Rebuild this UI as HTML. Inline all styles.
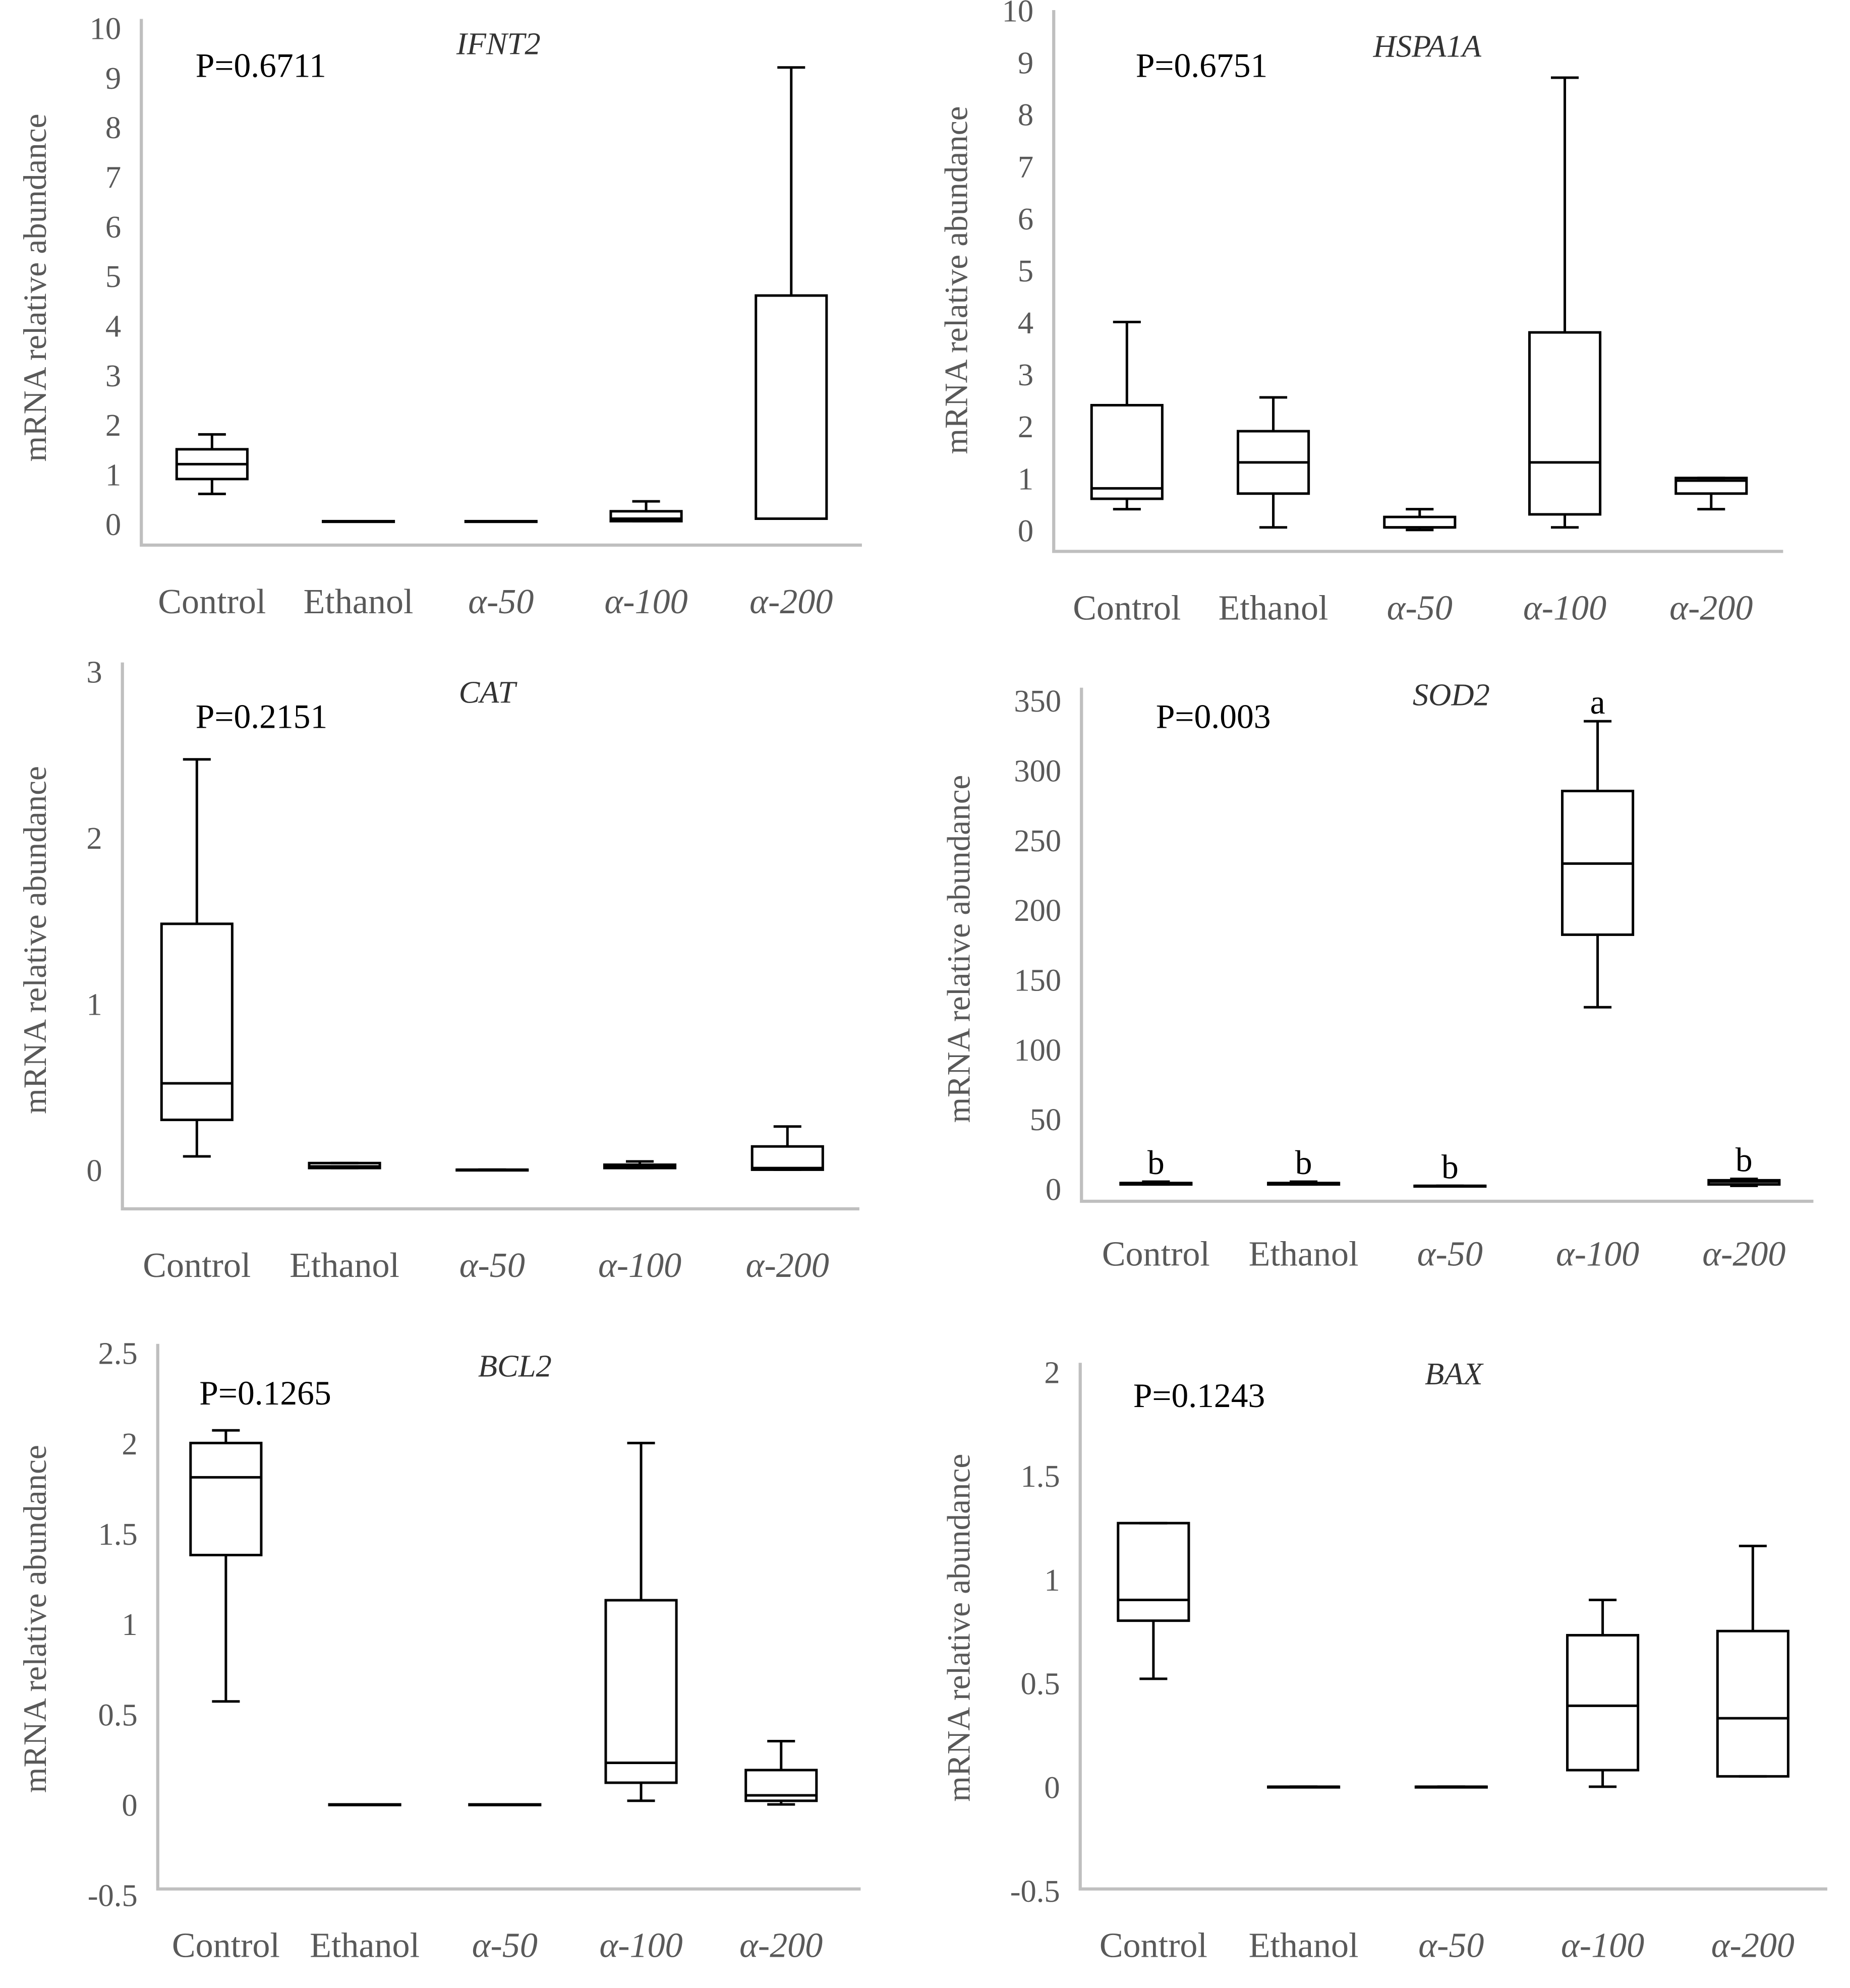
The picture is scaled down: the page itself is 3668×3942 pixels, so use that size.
<!DOCTYPE html>
<html><head><meta charset="utf-8"><style>
html,body{margin:0;padding:0;background:#fff}
svg{display:block}
text{font-family:"Liberation Serif",serif}
</style></head><body>
<svg id="chart" width="3668" height="3942" viewBox="0 0 1466 1575.5" preserveAspectRatio="none" xmlns="http://www.w3.org/2000/svg">
<rect width="1466" height="1575.5" fill="#fff"/>
</svg>
<script>
const categories = ["Control","Ethanol","α-50","α-100","α-200"];
// each box: [whiskerLow, boxLow, median, boxHigh, whiskerHigh]
const ifnt2Values = [[0.6,0.9,1.2,1.5,1.8],[0.05,0.05,0.05,0.05,0.05],[0.05,0.05,0.05,0.05,0.05],[0.05,0.05,0.1,0.25,0.45],[0.1,0.1,0.1,4.6,9.2]];
const hspa1aValues = [[0.4,0.6,0.8,2.4,4.0],[0.05,0.7,1.3,1.9,2.55],[0,0.05,0.05,0.25,0.4],[0.05,0.3,1.3,3.8,8.7],[0.4,0.7,0.95,1.0,1.0]];
const catValues = [[0.08,0.3,0.52,1.48,2.47],[0.01,0.01,0.02,0.04,0.04],[0,0,0,0,0],[0.01,0.01,0.02,0.03,0.05],[0,0,0.01,0.14,0.26]];
const sod2Values = [[3,3,4,4,5],[3,3,4,4,5],[2,2,2,2,2],[130,182,233,285,335],[2,3,5,6,7]];
const bcl2Values = [[0.57,1.38,1.81,2.0,2.07],[0,0,0,0,0],[0,0,0,0,0],[0.02,0.12,0.23,1.13,2.0],[0,0.02,0.05,0.19,0.35]];
const baxValues = [[0.52,0.8,0.9,1.27,1.27],[0,0,0,0,0],[0,0,0,0,0],[0,0.08,0.39,0.73,0.9],[0.05,0.05,0.33,0.75,1.16]];
const ifnt2Ticks = [0,1,2,3,4,5,6,7,8,9,10];
const hspa1aTicks = [0,1,2,3,4,5,6,7,8,9,10];
const catTicks = [0,1,2,3];
const sod2Ticks = [0,50,100,150,200,250,300,350];
const bcl2Ticks = [-0.5,0,0.5,1,1.5,2,2.5];
const baxTicks = [-0.5,0,0.5,1,1.5,2];
const sod2Letters = ["b","b","b","a","b"];

const svg = document.getElementById('chart');
const NS = "http://www.w3.org/2000/svg";
function mk(tag, attrs, parent, txt){
  const e = document.createElementNS(NS, tag);
  for (const k in attrs) e.setAttribute(k, attrs[k]);
  if (txt !== undefined) e.textContent = txt;
  (parent||svg).appendChild(e);
  return e;
}
const panels = [
 {id:"ifnt2", title:"IFNT2", p:"P=0.6711", values:ifnt2Values, ticks:ifnt2Ticks, ax:112, top:15, bottom:432, right:683, v0:0, y0:415, v1:10, y1:22, cx:[168,284,397,512,627], labY:486, titleX:395, titleY:43, pX:155, pY:61, ytX:28, ytY:228},
 {id:"hspa1a", title:"HSPA1A", p:"P=0.6751", values:hspa1aValues, ticks:hspa1aTicks, ax:835, top:8, bottom:437, right:1413, v0:0, y0:420, v1:10, y1:8, cx:[893,1009,1125,1240,1356], labY:491, titleX:1131, titleY:45, pX:900, pY:61, ytX:758, ytY:222},
 {id:"cat", title:"CAT", p:"P=0.2151", values:catValues, ticks:catTicks, ax:97, top:525, bottom:958, right:681, v0:0, y0:927, v1:3, y1:532, cx:[156,273,390,507,624], labY:1012, titleX:386, titleY:557, pX:155, pY:577, ytX:28, ytY:745},
 {id:"sod2", title:"SOD2", p:"P=0.003", values:sod2Values, ticks:sod2Ticks, ax:857, top:545, bottom:952, right:1437, v0:0, y0:942, v1:350, y1:555, cx:[916,1033,1149,1266,1382], labY:1003, titleX:1150, titleY:559, pX:916, pY:577, ytX:760, ytY:752, letters:sod2Letters},
 {id:"bcl2", title:"BCL2", p:"P=0.1265", values:bcl2Values, ticks:bcl2Ticks, ax:125, top:1065, bottom:1497, right:682, v0:0, y0:1430, v1:2.5, y1:1072, cx:[179,289,400,508,619], labY:1551, titleX:408, titleY:1091, pX:158, pY:1113, ytX:28, ytY:1283},
 {id:"bax", title:"BAX", p:"P=0.1243", values:baxValues, ticks:baxTicks, ax:856, top:1080, bottom:1497, right:1448, v0:0, y0:1416, v1:2, y1:1087, cx:[914,1033,1150,1270,1389], labY:1551, titleX:1152, titleY:1097, pX:898, pY:1115, ytX:760, ytY:1290}
];
const BW = 56, CAP = 22;
panels.forEach(P => {
  const g = mk('g', {});
  
  
  const y = v => P.y0 + (v - P.v0) * (P.y1 - P.y0) / (P.v1 - P.v0);
  const axes = mk('path', {d:`M${P.ax} ${P.top} L${P.ax} ${P.bottom} L${P.right} ${P.bottom}`, stroke:"#bfbfbf", "stroke-width":2.5, fill:"none"}, g);
  
  
  P.ticks.forEach(t => {
    const tl = mk('text', {x:P.ax-16, y:y(t)+9, "text-anchor":"end", "font-size":25, fill:"#595959"}, g, String(t));
    
    
  });
  const yt = mk('text', {x:P.ytX, y:P.ytY, transform:`rotate(-90 ${P.ytX} ${P.ytY})`, "text-anchor":"middle", "dominant-baseline":"central", "font-size":26, fill:"#595959"}, g, "mRNA relative abundance");
  
  
  const tt = mk('text', {x:P.titleX, y:P.titleY, "text-anchor":"middle", "font-size":25, "font-style":"italic", fill:"#333"}, g, P.title);
  
  
  const pt = mk('text', {x:P.pX, y:P.pY, "font-size":27, fill:"#000"}, g, P.p);
  
  
  categories.forEach((c, i) => {
    const lab = mk('text', {x:P.cx[i], y:P.labY, "text-anchor":"middle", "font-size":28, fill:"#595959", "font-style": i>1 ? "italic" : "normal"}, g, c);
    
    
    const d = P.values[i], x = P.cx[i];
    const bg = mk('g', {stroke:"#000", "stroke-width":2, fill:"none"}, g);
    
    
    mk('line', {x1:x, x2:x, y1:y(d[0]), y2:y(d[1])}, bg);
    mk('line', {x1:x, x2:x, y1:y(d[3]), y2:y(d[4])}, bg);
    mk('line', {x1:x-CAP/2, x2:x+CAP/2, y1:y(d[0]), y2:y(d[0])}, bg);
    mk('line', {x1:x-CAP/2, x2:x+CAP/2, y1:y(d[4]), y2:y(d[4])}, bg);
    mk('rect', {x:x-BW/2, y:y(d[3]), width:BW, height:Math.max(0.5, y(d[1])-y(d[3]))}, bg);
    mk('line', {x1:x-BW/2, x2:x+BW/2, y1:y(d[2]), y2:y(d[2])}, bg);
    if (P.letters) {
      const lt = mk('text', {x:x, y:y(d[4])-6, "text-anchor":"middle", "font-size":27, fill:"#000"}, g, P.letters[i]);
      
      
    }
  });
});
</script>
</body></html>
